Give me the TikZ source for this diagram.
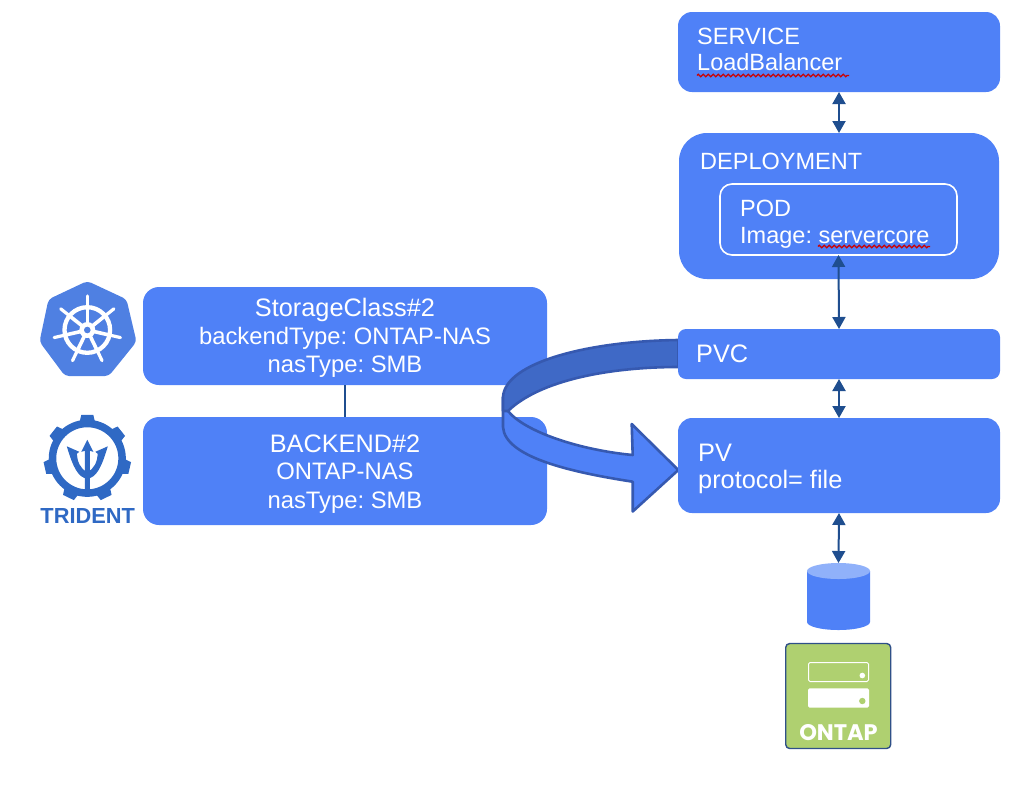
\documentclass[tikz,border=0pt]{standalone}
\usepackage{fontspec}
\setmainfont{Liberation Sans}
\newfontfamily\ontapfont{Poppins}
\usetikzlibrary{decorations.pathmorphing,arrows.meta}
\definecolor{boxblue}{HTML}{4F81F7}
\definecolor{darkband}{HTML}{3F69C6}
\definecolor{bandedge}{HTML}{3659B0}
\definecolor{arrowblue}{HTML}{1F4E8F}
\definecolor{k8sblue}{HTML}{4F80E2}
\definecolor{tridentblue}{HTML}{2F69C4}
\definecolor{cyltop}{HTML}{90B1FA}
\definecolor{ontapgreen}{HTML}{AFD070}
\definecolor{ontapedge}{HTML}{2F5088}
\tikzset{
  x=1pt,y=-1pt,
  bluebox/.style={fill=boxblue,draw=none,inner sep=0pt,outer sep=0pt,rectangle},
  lbl/.style={text=white,inner sep=0pt,font=\fontsize{23.5}{28}\selectfont\frenchspacing},
  lblbig/.style={text=white,inner sep=0pt,font=\fontsize{25.3}{28}\selectfont\frenchspacing},
  lblleft/.style={lbl,anchor=base west},
  lblmid/.style={text=white,inner sep=0pt,font=\fontsize{23.8}{28}\selectfont\frenchspacing,anchor=base},
  twoway/.style={draw=arrowblue,line width=2pt,{Triangle[length=12pt,width=13pt]}-{Triangle[length=12pt,width=13pt]}},
  squiggle/.style={draw=red!80!black,line width=1.2pt,decorate,decoration={zigzag,segment length=5pt,amplitude=1.3pt}},
  bandline/.style={draw=bandedge,line width=2.6pt,line join=round},
}
\begin{document}
\begin{tikzpicture}
\useasboundingbox (0,0) rectangle (1032,788);
% left boxes
\node[bluebox,rounded corners=16pt,minimum width=404pt,minimum height=98pt] (sc) at (345,336) {};
\node[bluebox,rounded corners=16pt,minimum width=404pt,minimum height=108pt] (be) at (345,471) {};
\draw[draw=arrowblue,line width=1.2pt] (sc.south) -- (be.north);
\node[lblbig,anchor=base] (sc1) at (345,316) {StorageClass\#2};
\node[lblmid] (sc2) at (345,344) {backendType: ONTAP-NAS};
\node[lblmid] (sc3) at (345,372) {nasType: SMB};
\node[lblbig,anchor=base] (be1) at (345,452) {BACKEND\#2};
\node[lblmid] (be2) at (345,479) {ONTAP-NAS};
\node[lblmid] (be3) at (345,508) {nasType: SMB};
% curved arrow
\draw[bandline,fill=boxblue]
  (503,397) -- (503,427) .. controls (505,457) and (570,472) .. (632.7,481.7)
  -- (632.7,511.5) -- (678.3,470) -- (631.7,424) -- (632.7,455)
  .. controls (580,450) and (525,432) .. (508,411) -- cycle;
\draw[bandline,fill=darkband]
  (678.3,340) .. controls (590,341) and (505,362) .. (503,397)
  -- (503,411) -- (508,411) .. controls (540,380) and (610,367) .. (678.3,367) -- cycle;
% right boxes
\node[bluebox,rounded corners=14pt,minimum width=322pt,minimum height=80pt] (svc) at (839,52) {};
\node[bluebox,rounded corners=28pt,minimum width=320pt,minimum height=146pt] (dep) at (839,206) {};
\node[draw=white,line width=1.6pt,rounded corners=12pt,minimum width=237pt,minimum height=71pt,inner sep=0pt,outer sep=0pt] (pod) at (838.5,219.5) {};
\node[bluebox,rounded corners=8pt,minimum width=322pt,minimum height=50pt] (pvc) at (839,354) {};
\node[bluebox,rounded corners=14pt,minimum width=322pt,minimum height=95pt] (pv) at (839,465.5) {};
\node[lblleft] (t1) at (697,44.5) {SERVICE};
\node[lblleft] (t2) at (697,70.5) {LoadBalancer};
\node[lblleft] (t3) at (700,169) {DEPLOYMENT};
\node[lblleft] (t4) at (740,216.5) {POD};
\node[lblleft] (t5) at (740,243.5) {Image: servercore};
\node[lblbig,anchor=base west] (t6) at (696,362.7) {PVC};
\node[lblbig,anchor=base west] (t7) at (698,461) {PV};
\node[lblbig,anchor=base west] (t8) at (698,488.3) {protocol= file};
\coordinate (sqa) at (697,75.5);
\coordinate (sqb) at (849,75.5);
\coordinate (sqc) at (818,246.5);
\coordinate (sqd) at (930,246.5);
\draw[squiggle] (sqa) -- (sqb);
\draw[squiggle] (sqc) -- (sqd);
% cylinder
\node[inner sep=0pt,outer sep=0pt,minimum width=63pt,minimum height=67pt] (cyl) at (838.5,596.5) {};
\fill[boxblue] (807,571) -- (807,622) arc[start angle=180,end angle=360,x radius=31.5,y radius=-8] -- (870,571) -- cycle;
\fill[cyltop] (838.5,571) ellipse[x radius=31.5,y radius=8];
% connectors
\draw[twoway] (svc.south) -- (dep.north);
\draw[twoway] (pod.south) -- (pvc.north);
\draw[twoway] (pvc.south) -- (pv.north);
\draw[twoway] (pv.south) -- (cyl.north);
% ONTAP
\node[fill=ontapgreen,draw=ontapedge,line width=1.4pt,rounded corners=4pt,minimum width=105pt,minimum height=105pt,inner sep=0pt,outer sep=0pt] (ontap) at (838.2,696) {};
\draw[white,line width=1pt,rounded corners=1.5pt] (808.5,662.5) rectangle (868.5,681.5);
\fill[white] (862.3,675.5) circle (2.8);
\fill[white,rounded corners=1.5pt] (808,688.3) rectangle (869,707.5);
\fill[ontapgreen] (862.3,701) circle (3.2);
\node[anchor=base,inner sep=0pt,text=white,font=\ontapfont\fontsize{22.5}{26}\selectfont\bfseries] (ontapt) at (838.5,740) {ONTAP};
% kubernetes logo
\fill[k8sblue,rounded corners=4pt] (87.3,281) -- (126.5,299.3) -- (136.5,341.7) -- (108.8,376) -- (65,376) -- (39.5,341.7) -- (48.5,299.3) -- cycle;
\begin{scope}[shift={(87.3,330)}]
  \draw[white,line width=4.3pt] (0,0) circle (22.8);
  \fill[white] (0,0) circle (8);
  \foreach \k in {0,...,6}{
    \draw[white,line width=3.6pt] (0,0) -- ({-90+\k*360/7}:22);
    \draw[white,line width=3.2pt,line cap=round] ({-90+\k*360/7}:22) -- ({-90+\k*360/7}:34);
  }
  \fill[k8sblue] (0,0) circle (3.3);
\end{scope}
% trident logo
\begin{scope}[shift={(87.3,458.3)}]
  \foreach \k in {0,...,6}{
    \fill[tridentblue,rotate={\k*360/7}] (-8,-35) -- (-6,-43.5) -- (6,-43.5) -- (8,-35) -- cycle;
  }
  \draw[tridentblue,line width=7.5pt] (0,0) circle (34.8);
  % shaft and centre prong
  \fill[tridentblue] (0,-18.5) -- (-6,-6.5) -- (-2.5,-7.5) -- (-2.5,32) -- (2.5,32) -- (2.5,-7.5) -- (6,-6.5) -- cycle;
  % side prongs
  \fill[tridentblue] (-20.5,-12) -- (-8,-6.5) -- (-10.5,-4.5) .. controls (-10,3) and (-7,11) .. (0,13.5)
    -- (0,20.5) .. controls (-9,19) and (-14,10) .. cycle;
  \fill[tridentblue] (20.5,-12) -- (8,-6.5) -- (10.5,-4.5) .. controls (10,3) and (7,11) .. (0,13.5)
    -- (0,20.5) .. controls (9,19) and (14,10) .. cycle;
\end{scope}
\node[anchor=base,inner sep=0pt,text=tridentblue,font=\fontsize{21.8}{24}\selectfont\bfseries] (trid) at (87.7,523) {TRIDENT};
\end{tikzpicture}
\end{document}
